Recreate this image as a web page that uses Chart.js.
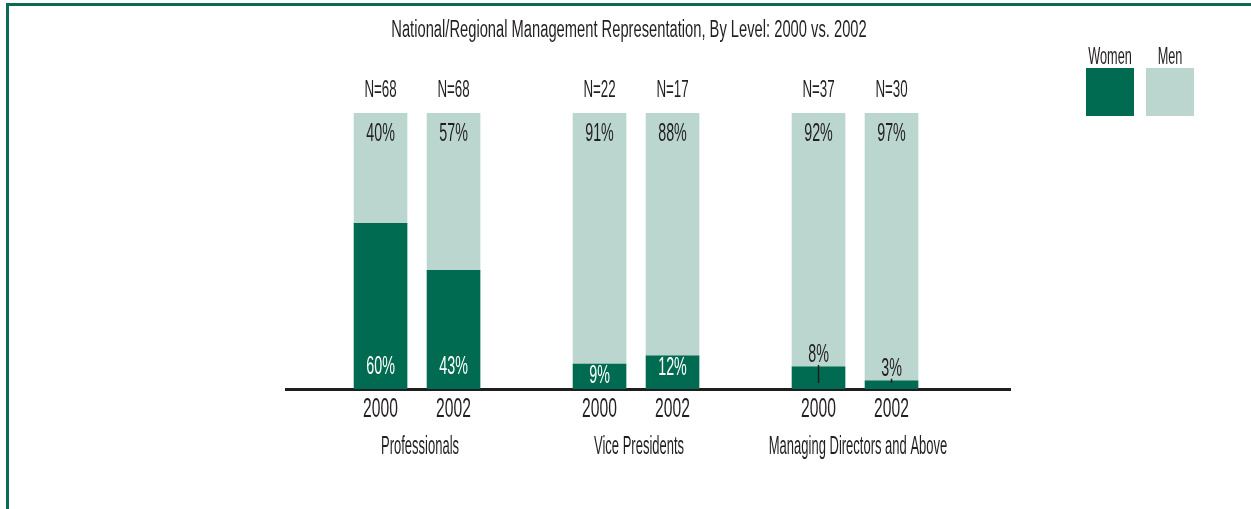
<!DOCTYPE html>
<html>
<head>
<meta charset="utf-8">
<script src="https://cdn.jsdelivr.net/npm/chart.js@4/dist/chart.umd.min.js"></script>
<style>
  html, body { margin: 0; padding: 0; background: #fff; }
  #wrap { position: relative; width: 1251px; height: 509px; }
  #frame { position: absolute; left: 6px; top: 3px; right: 0; bottom: 0;
           border-left: 3px solid #0b6b52; border-top: 3px solid #0b6b52; }
  canvas { position: absolute; left: 0; top: 0; }
</style>
</head>
<body>
<div id="wrap">
  <div id="frame"></div>
  <canvas id="chart" width="1251" height="509"></canvas>
</div>
<script>
// chart data
const titleText = 'National/Regional Management Representation, By Level: 2000 vs. 2002';
const groups = ['Professionals', 'Vice Presidents', 'Managing Directors and Above'];
const years = ['2000', '2002'];
const womenPct = [60, 43, 9, 12, 8, 3];
const menPct = [40, 57, 91, 88, 92, 97];
const sampleN = [68, 68, 22, 17, 37, 30];

const WOMEN = '#006b51';
const MEN = '#bad6cf';
const INK = '#231f20';
const FONT = '"Liberation Sans Narrow", "Liberation Sans", sans-serif';

// each group takes 2 bar slots + 1 empty slot
const slot = i => Math.floor(i / years.length) * (years.length + 1) + (i % years.length);

function condText(ctx, txt, x, y, size, color, sx) {
    ctx.save();
    ctx.font = size + 'px ' + FONT;
    ctx.fillStyle = color;
    ctx.textAlign = 'center';
    ctx.textBaseline = 'middle';
    ctx.translate(x, y);
    ctx.scale(sx, 1);
    ctx.fillText(txt, 0, 0);
    ctx.restore();
}

const labelPlugin = {
    id: 'labels',
    afterDatasetsDraw(chart) {
        const ctx = chart.ctx;
        const area = chart.chartArea;
        const xs = chart.scales.x;
        const wMeta = chart.getDatasetMeta(0);
        const mMeta = chart.getDatasetMeta(1);

        condText(ctx, titleText, 629, 31, 23, INK, 0.64);

        womenPct.forEach((v, i) => {
            const bw = wMeta.data[i];
            const bm = mMeta.data[i];
            const x = bw.x;
            // sample size above bar
            condText(ctx, 'N=' + sampleN[i], x, area.top - 22, 23, INK, 0.58);
            // men share near top
            condText(ctx, menPct[i] + '%', x, bm.y + 21, 26, INK, 0.55);
            // women share
            const h = bw.base - bw.y;
            if (h >= 24) {
                condText(ctx, v + '%', x, Math.max(bw.base - 22, bw.y + 12), 26, '#ffffff', 0.55);
            } else {
                const ty = bw.y - 12;
                condText(ctx, v + '%', x, ty, 26, INK, 0.55);
                ctx.save();
                ctx.strokeStyle = INK;
                ctx.lineWidth = 1.5;
                ctx.beginPath();
                ctx.moveTo(x, ty + 10);
                ctx.lineTo(x, bw.base - 6);
                ctx.stroke();
                ctx.restore();
            }
            // year under axis
            condText(ctx, years[i % years.length], x, area.bottom + 21, 27, INK, 0.58);
        });

        groups.forEach((g, k) => {
            const a = xs.getPixelForValue(slot(k * years.length));
            const b = xs.getPixelForValue(slot(k * years.length + years.length - 1));
            condText(ctx, g, (a + b) / 2 + 3, area.bottom + 58, 25, INK, 0.52);
        });

        // legend: label above swatch
        chart.data.datasets.forEach((ds, d) => {
            const lx = 1086 + d * 60;
            ctx.fillStyle = ds.backgroundColor;
            ctx.fillRect(lx, 68, 48, 48);
            condText(ctx, ds.label, lx + 24, 57, 24, INK, 0.53);
        });
    }
};

new Chart(document.getElementById('chart'), {
    type: 'bar',
    data: {
        datasets: [
            { label: 'Women', data: womenPct.map((v, i) => ({ x: slot(i), y: v })), backgroundColor: WOMEN },
            { label: 'Men', data: menPct.map((v, i) => ({ x: slot(i), y: v })), backgroundColor: MEN }
        ]
    },
    options: {
        responsive: false,
        animation: false,
        barThickness: 53,
        layout: { padding: { left: 286, right: 241, top: 113, bottom: 120 } },
        plugins: { legend: { display: false }, title: { display: false }, tooltip: { enabled: false } },
        scales: {
            x: {
                type: 'linear', stacked: true, offset: false, min: -1.295, max: 8.623,
                ticks: { display: false },
                grid: { display: false, drawTicks: false },
                border: { display: true, color: '#1e1e1e', width: 3 }
            },
            y: { stacked: true, min: 0, max: 100, display: false }
        }
    },
    plugins: [labelPlugin]
});
</script>
</body>
</html>
